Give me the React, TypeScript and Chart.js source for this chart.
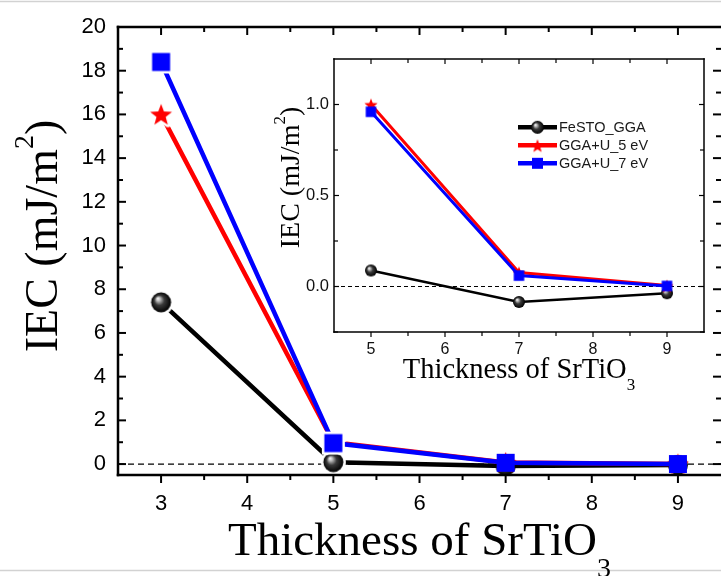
import React, { useEffect, useRef } from 'react';
import { Chart, registerables } from 'chart.js';
Chart.register(...registerables);

// ---- data ----
const thickness = [3, 5, 7, 9];
const festoGGA = [7.4, 0.088, -0.085, -0.037];
const ggaU5 = [16.0, 1.0, 0.077, 0.005];
const ggaU7 = [18.4, 0.96, 0.06, 0.003];
const seriesNames = ['FeSTO_GGA', 'GGA+U_5 eV', 'GGA+U_7 eV'];
const seriesColors = ['#000000', '#ff0000', '#0000ff'];

// ---- ticks ----
const mainXTicks = [3, 4, 5, 6, 7, 8, 9];
const mainXMinor = [3.5, 4.5, 5.5, 6.5, 7.5, 8.5];
const mainYTicks = [0, 2, 4, 6, 8, 10, 12, 14, 16, 18, 20];
const mainYMinor = [1, 3, 5, 7, 9, 11, 13, 15, 17, 19];
const insetXTicks = [5, 6, 7, 8, 9];
const insetXMinor = [5.5, 6.5, 7.5, 8.5];
const insetYTicks = [0, 0.5, 1.0];
const insetYMinor = [-0.25, 0.25, 0.75];

const SANS = '"Liberation Sans", Arial, sans-serif';
const SERIF = '"Liberation Serif", "Times New Roman", serif';

function pts(vals: number[], from = 0) {
  return thickness.slice(from).map((t, i) => ({ x: t, y: vals[i + from] }));
}

function mk(s: number) {
  const c = document.createElement('canvas');
  c.width = s;
  c.height = s;
  return c;
}

function sphere(r: number, ring: number) {
  const s = Math.ceil(2 * (r + ring) + 2);
  const c = mk(s);
  const g = c.getContext('2d')!;
  const m = s / 2;
  if (ring > 0) {
    g.fillStyle = '#fff';
    g.beginPath();
    g.arc(m, m, r + ring, 0, Math.PI * 2);
    g.fill();
  }
  const gr = g.createRadialGradient(m - 0.35 * r, m - 0.4 * r, 0, m, m, r);
  gr.addColorStop(0, '#ffffff');
  gr.addColorStop(0.18, '#c4c4c4');
  gr.addColorStop(0.5, '#3a3a3a');
  gr.addColorStop(1, '#000000');
  g.fillStyle = gr;
  g.beginPath();
  g.arc(m, m, r, 0, Math.PI * 2);
  g.fill();
  return c;
}

function starPath(g: CanvasRenderingContext2D, m: number, R: number) {
  const ri = R * 0.42;
  g.beginPath();
  for (let i = 0; i < 10; i++) {
    const rr = i % 2 === 0 ? R : ri;
    const a = -Math.PI / 2 + (i * Math.PI) / 5;
    const px = m + rr * Math.cos(a);
    const py = m + 1 + rr * Math.sin(a);
    if (i === 0) g.moveTo(px, py);
    else g.lineTo(px, py);
  }
  g.closePath();
}

function star(R: number, ring: number, color: string) {
  const s = Math.ceil(2 * (R + ring) + 4);
  const c = mk(s);
  const g = c.getContext('2d')!;
  const m = s / 2;
  if (ring > 0) {
    starPath(g, m, R);
    g.strokeStyle = '#fff';
    g.lineWidth = 2 * ring;
    g.lineJoin = 'round';
    g.stroke();
  }
  starPath(g, m, R);
  g.fillStyle = color;
  g.fill();
  return c;
}

function square(side: number, ring: number, color: string) {
  const s = Math.ceil(side + 2 * ring + 2);
  const c = mk(s);
  const g = c.getContext('2d')!;
  const m = s / 2;
  if (ring > 0) {
    g.fillStyle = '#fff';
    g.fillRect(m - side / 2 - ring, m - side / 2 - ring, side + 2 * ring, side + 2 * ring);
  }
  g.fillStyle = color;
  g.fillRect(m - side / 2, m - side / 2, side, side);
  return c;
}

type Part = { t: string; size: number; dy: number };

function richText(ctx: CanvasRenderingContext2D, parts: Part[], cx: number, cy: number, rotate: boolean) {
  ctx.save();
  ctx.translate(cx, cy);
  if (rotate) ctx.rotate(-Math.PI / 2);
  ctx.fillStyle = '#000';
  ctx.textBaseline = 'alphabetic';
  ctx.textAlign = 'left';
  const widths = parts.map((p) => {
    ctx.font = `${p.size}px ${SERIF}`;
    return ctx.measureText(p.t).width;
  });
  const total = widths.reduce((s, w) => s + w, 0);
  let x = -total / 2;
  parts.forEach((p, i) => {
    ctx.font = `${p.size}px ${SERIF}`;
    ctx.fillText(p.t, x, p.dy);
    x += widths[i];
  });
  ctx.restore();
}

type FrameOpt = {
  xMajor: number[]; xMinor: number[]; yMajor: number[]; yMinor: number[];
  maj: number; min: number; tw: number; fw: number; rightLine: boolean;
};

function drawFrame(chart: any, o: FrameOpt) {
  const { ctx, chartArea: a } = chart;
  const xs = chart.scales.x;
  const ys = chart.scales.y;
  ctx.save();
  ctx.strokeStyle = '#000';
  ctx.setLineDash([]);
  const seg = (x1: number, y1: number, x2: number, y2: number) => {
    ctx.beginPath();
    ctx.moveTo(x1, y1);
    ctx.lineTo(x2, y2);
    ctx.stroke();
  };
  ctx.lineWidth = o.tw;
  ctx.lineCap = 'butt';
  o.xMajor.forEach((v) => {
    const p = xs.getPixelForValue(v);
    seg(p, a.bottom, p, a.bottom + o.maj);
    seg(p, a.top, p, a.top + o.maj);
  });
  o.xMinor.forEach((v) => {
    const p = xs.getPixelForValue(v);
    seg(p, a.bottom, p, a.bottom + o.min);
    seg(p, a.top, p, a.top + o.min);
  });
  o.yMajor.forEach((v) => {
    const p = ys.getPixelForValue(v);
    seg(a.left, p, a.left + o.maj, p);
    seg(a.right, p, a.right - o.maj, p);
  });
  o.yMinor.forEach((v) => {
    const p = ys.getPixelForValue(v);
    seg(a.left, p, a.left + o.min, p);
    seg(a.right, p, a.right - o.min, p);
  });
  ctx.lineWidth = o.fw;
  ctx.lineCap = 'square';
  seg(a.left, a.top, a.right, a.top);
  seg(a.left, a.bottom, a.right, a.bottom);
  seg(a.left, a.top, a.left, a.bottom);
  if (o.rightLine) seg(a.right, a.top, a.right, a.bottom);
  ctx.restore();
}

function zeroLine(chart: any, dash: number[], w: number) {
  const { ctx, chartArea: a } = chart;
  const p = chart.scales.y.getPixelForValue(0);
  ctx.save();
  ctx.strokeStyle = '#000';
  ctx.lineWidth = w;
  ctx.setLineDash(dash);
  ctx.beginPath();
  ctx.moveTo(a.left, p);
  ctx.lineTo(a.right, p);
  ctx.stroke();
  ctx.restore();
}

export default function App() {
  const mainRef = useRef<HTMLCanvasElement>(null);
  const insetRef = useRef<HTMLCanvasElement>(null);

  useEffect(() => {
    if (!mainRef.current || !insetRef.current) return;

    const ringed = [sphere(10, 2.5), star(11.5, 2.5, '#ff0000'), square(18, 2.5, '#0000ff')];
    const plain = [sphere(10, 0), star(11.5, 0, '#ff0000'), square(18, 0, '#0000ff')];
    const insetMk = [sphere(6, 0), star(7, 0, '#ff0000'), square(10.5, 0, '#0000ff')];
    const legendMk = [sphere(6.5, 0), star(7, 0, '#ff0000'), square(11, 0, '#0000ff')];
    const values = [festoGGA, ggaU5, ggaU7];

    const mainPlugin = {
      id: 'mainDeco',
      beforeDraw(chart: any) {
        const { ctx, width } = chart;
        ctx.save();
        ctx.strokeStyle = '#d2d2d2';
        ctx.lineWidth = 1.5;
        ctx.beginPath();
        ctx.moveTo(0, 1.5);
        ctx.lineTo(width, 1.5);
        ctx.moveTo(0, 570.5);
        ctx.lineTo(width, 570.5);
        ctx.stroke();
        ctx.restore();
      },
      beforeDatasetsDraw(chart: any) {
        zeroLine(chart, [6, 4], 1.3);
      },
      afterDatasetsDraw(chart: any) {
        drawFrame(chart, {
          xMajor: mainXTicks, xMinor: mainXMinor, yMajor: mainYTicks, yMinor: mainYMinor,
          maj: 8, min: 5, tw: 2, fw: 2.5, rightLine: false,
        });
      },
      afterDraw(chart: any) {
        const { ctx, chartArea: a } = chart;
        richText(ctx, [
          { t: 'Thickness of SrTiO', size: 47, dy: 0 },
          { t: '3', size: 28, dy: 22 },
        ], (a.left + a.right) / 2, 555, false);
        richText(ctx, [
          { t: 'IEC (mJ/m', size: 46, dy: 0 },
          { t: '2', size: 28, dy: -24 },
          { t: ')', size: 46, dy: 0 },
        ], 57, 236, true);
      },
    };

    const insetPlugin = {
      id: 'insetDeco',
      beforeDatasetsDraw(chart: any) {
        zeroLine(chart, [4, 3], 1);
      },
      afterDatasetsDraw(chart: any) {
        drawFrame(chart, {
          xMajor: insetXTicks, xMinor: insetXMinor, yMajor: insetYTicks, yMinor: insetYMinor,
          maj: 5, min: 4, tw: 1.2, fw: 1.5, rightLine: true,
        });
      },
      afterDraw(chart: any) {
        const { ctx, chartArea: a } = chart;
        richText(ctx, [
          { t: 'Thickness of SrTiO', size: 28.5, dy: 0 },
          { t: '3', size: 17, dy: 12 },
        ], (a.left + a.right) / 2, 338, false);
        richText(ctx, [
          { t: 'IEC (mJ/m', size: 28, dy: 0 },
          { t: '2', size: 17, dy: -14 },
          { t: ')', size: 28, dy: 0 },
        ], 48.5, 137.5, true);
        // legend
        const x0 = a.left + 184;
        const x1 = a.left + 223;
        const xm = (x0 + x1) / 2;
        chart.data.datasets.forEach((ds: any, i: number) => {
          const yy = a.top + 68.3 + i * 18;
          ctx.save();
          ctx.strokeStyle = ds.borderColor;
          ctx.lineWidth = 4.5;
          ctx.beginPath();
          ctx.moveTo(x0, yy);
          ctx.lineTo(x1, yy);
          ctx.stroke();
          const im = legendMk[i];
          ctx.drawImage(im, xm - im.width / 2, yy - im.height / 2);
          ctx.fillStyle = '#1a1a1a';
          ctx.font = `14.5px ${SANS}`;
          ctx.textBaseline = 'middle';
          ctx.textAlign = 'left';
          ctx.fillText(ds.label, x1 + 2, yy + 1);
          ctx.restore();
        });
      },
    };

    const mainChart = new Chart(mainRef.current, {
      type: 'line',
      data: {
        datasets: values.map((v, i) => ({
          label: seriesNames[i],
          data: pts(v),
          borderColor: seriesColors[i],
          backgroundColor: seriesColors[i],
          borderWidth: 4.5,
          tension: 0,
          pointRadius: 9,
          pointHoverRadius: 9,
          pointStyle: (c: any) => (c.dataIndex < 2 ? ringed[i] : plain[i]),
          order: 2 - i,
        })),
      },
      options: {
        responsive: false,
        maintainAspectRatio: false,
        animation: false,
        devicePixelRatio: 1,
        events: [],
        layout: { padding: { top: 27, left: 0, right: 0, bottom: 0 }, autoPadding: false },
        plugins: { legend: { display: false }, tooltip: { enabled: false } },
        scales: {
          x: {
            type: 'linear',
            min: 2.5,
            max: 9.5,
            afterBuildTicks: (s: any) => { s.ticks = mainXTicks.map((v) => ({ value: v })); },
            afterFit: (s: any) => { s.height = 101; },
            grid: { display: false, drawTicks: false },
            border: { display: false },
            ticks: { autoSkip: false, maxRotation: 0, padding: 16, color: '#000', font: { family: SANS, size: 22 } },
          },
          y: {
            type: 'linear',
            min: -0.5,
            max: 20,
            afterBuildTicks: (s: any) => { s.ticks = mainYTicks.map((v) => ({ value: v })); },
            afterFit: (s: any) => { s.width = 118; },
            grid: { display: false, drawTicks: false },
            border: { display: false },
            ticks: { autoSkip: false, padding: 12, color: '#000', font: { family: SANS, size: 22 } },
          },
        },
      } as any,
      plugins: [mainPlugin],
    });

    const insetChart = new Chart(insetRef.current, {
      type: 'line',
      data: {
        datasets: values.map((v, i) => ({
          label: seriesNames[i],
          data: pts(v, 1),
          borderColor: seriesColors[i],
          backgroundColor: seriesColors[i],
          borderWidth: i === 0 ? 2.5 : 3,
          tension: 0,
          pointRadius: 6,
          pointHoverRadius: 6,
          pointStyle: insetMk[i],
          order: 2 - i,
        })),
      },
      options: {
        responsive: false,
        maintainAspectRatio: false,
        animation: false,
        devicePixelRatio: 1,
        events: [],
        layout: { padding: { top: 19, left: 0, right: 12, bottom: 0 }, autoPadding: false },
        plugins: { legend: { display: false }, tooltip: { enabled: false } },
        scales: {
          x: {
            type: 'linear',
            min: 4.5,
            max: 9.5,
            afterBuildTicks: (s: any) => { s.ticks = insetXTicks.map((v) => ({ value: v })); },
            afterFit: (s: any) => { s.height = 60; },
            grid: { display: false, drawTicks: false },
            border: { display: false },
            ticks: { autoSkip: false, maxRotation: 0, padding: 8, color: '#111', font: { family: SANS, size: 16 } },
          },
          y: {
            type: 'linear',
            min: -0.25,
            max: 1.25,
            afterBuildTicks: (s: any) => { s.ticks = insetYTicks.map((v) => ({ value: v })); },
            afterFit: (s: any) => { s.width = 84; },
            grid: { display: false, drawTicks: false },
            border: { display: false },
            ticks: {
              autoSkip: false,
              padding: 5,
              color: '#111',
              font: { family: SANS, size: 16.5 },
              callback: (v: any) => Number(v).toFixed(1),
            },
          },
        },
      } as any,
      plugins: [insetPlugin],
    });

    return () => {
      mainChart.destroy();
      insetChart.destroy();
    };
  }, []);

  return (
    <div style={{ position: 'fixed', left: 0, top: 0, width: 721, height: 576, background: '#fff', overflow: 'hidden' }}>
      <canvas
        ref={mainRef}
        width={721}
        height={576}
        style={{ position: 'absolute', left: 0, top: 0, width: 721, height: 576 }}
      />
      <canvas
        ref={insetRef}
        width={466}
        height={352}
        style={{ position: 'absolute', left: 250, top: 40, width: 466, height: 352 }}
      />
    </div>
  );
}
